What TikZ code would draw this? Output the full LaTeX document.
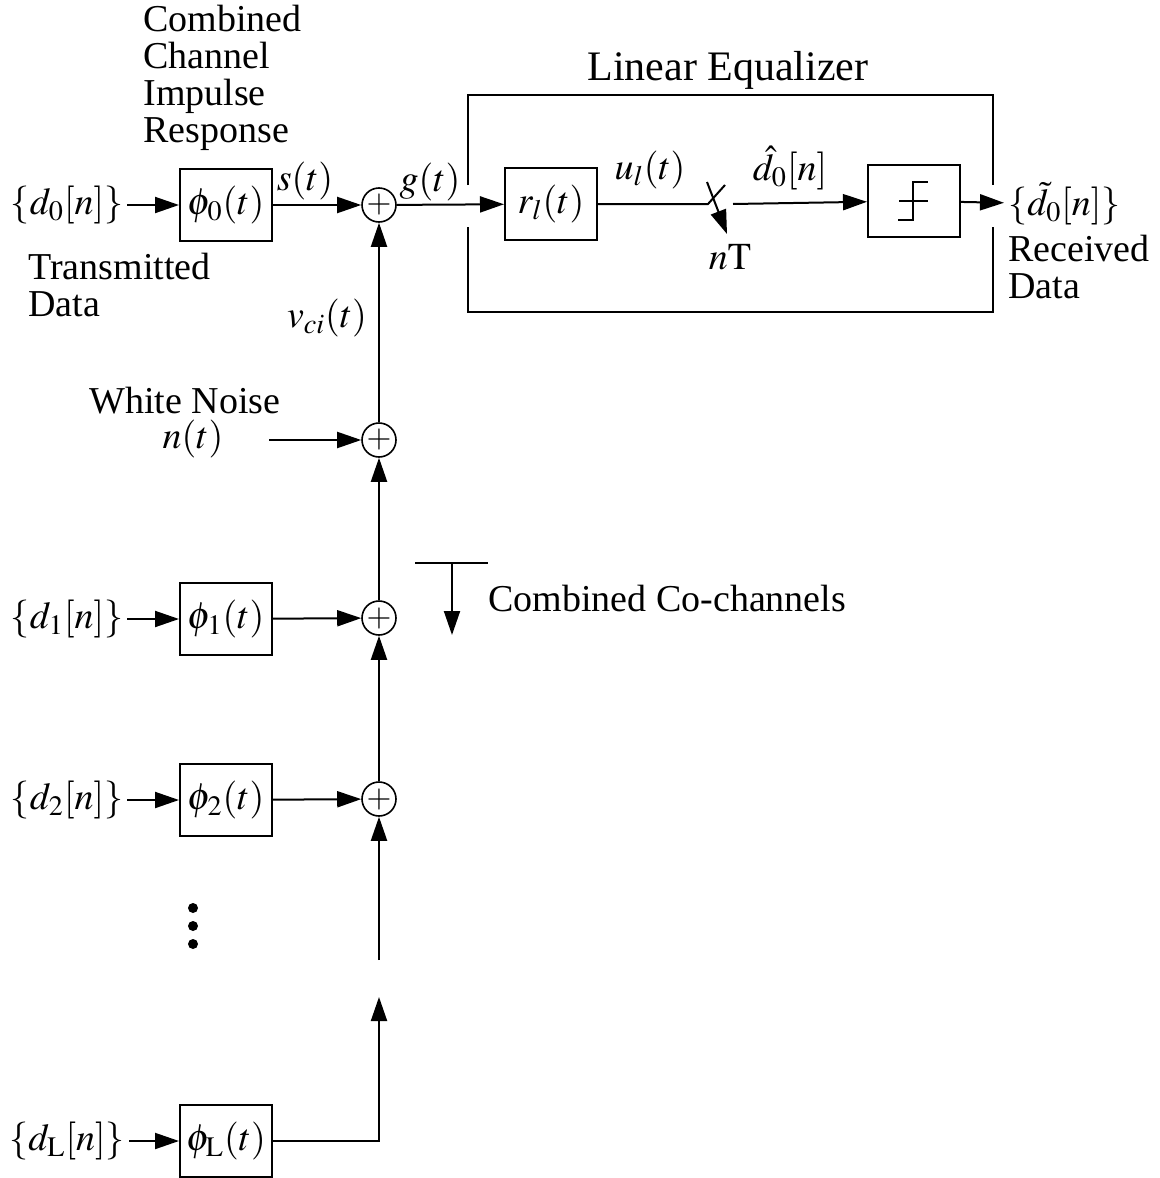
\documentclass[tikz,border=0pt]{standalone}
\usepackage{mathptmx}
\usepackage[no-math]{fontspec}
\setmainfont{Liberation Serif}
\usetikzlibrary{arrows.meta,positioning}

\tikzset{
  blk/.style={draw,line width=1pt,minimum width=46pt,minimum height=36pt,inner sep=0pt},
  sumc/.style={draw,circle,line width=0.8pt,minimum size=17pt,inner sep=0pt,font=\fontsize{16}{16}\selectfont},
  sig/.style={line width=1pt,-{Triangle[length=12pt,width=8pt]}},
  wire/.style={line width=1pt}
}

\begin{document}
\begin{tikzpicture}[x=0.5pt,y=-0.5pt,font=\fontsize{19}{18.5}\selectfont,inner sep=2pt]
\useasboundingbox (0,0) rectangle (1160,1178);

% channel 0 and equalizer
\node (d0) at (67,205) {$\{d_0[n]\}$};
\node[blk] (phi0) at (226,205) {$\phi_0(t)$};
\node[sumc] (s0) at (379,205) {$+$};
\node[blk] (rl) at (551,204) {$r_l(t)$};
\node[blk] (dec) at (914,201) {};
\node[anchor=west] (dout) at (1004,204) {$\{\tilde{d}_0[n]\}$};
\coordinate (swin) at (708,204);
\coordinate (swout) at (733,204);

\node[anchor=west,align=left] (cir) at (139,78) {Combined\\Channel\\Impulse\\Response};
\node[anchor=west,align=left] (txd) at (24,285) {Transmitted\\Data};
\node[anchor=west,align=left] (rxd) at (1004,267) {Received\\Data};
\node[font=\fontsize{21}{21}\selectfont] (leq) at (728,70) {Linear Equalizer};

\draw[sig] (d0) -- (phi0);
\draw[sig] (phi0) -- (s0);
\draw[sig] (s0) -- (rl);
\draw[wire] (rl) -- (swin) -- (725,185);
\draw[sig] (707,182) -- (727,234);
\draw[sig] (swout) -- (dec);
\draw[sig] (dec) -- (dout);
\node (st) at (305,181) {$s(t)$};
\node (gt) at (430,182) {$g(t)$};
\node (ut) at (650,170) {$u_l(t)$};
\node (dh) at (790,168) {$\hat{d}_0[n]$};
\node (nT) at (730,257) {$n\mathrm{T}$};

% equalizer frame, open where the signal passes
\draw[wire] (468,185) -- (468,95) -- (993,95) -- (993,185);
\draw[wire] (468,227) -- (468,312) -- (993,312) -- (993,227);

% slicer
\draw[wire] ([shift={(-15,0)}]dec.center) -- ([shift={(14,0)}]dec.center);
\draw[wire] ([shift={(-16,19)}]dec.center) -- ([shift={(-1,19)}]dec.center)
  -- ([shift={(-1,-19)}]dec.center) -- ([shift={(14,-19)}]dec.center);

% noise and co-channels
\node[sumc] (sn) at (379,440) {$+$};
\node[sumc] (s1) at (379,618) {$+$};
\node[sumc] (s2) at (379,799) {$+$};
\node (wn) at (185,401) {White Noise};
\node (nt) at (193,439) {$n(t)$};
\node (vci) at (327,318) {$v_{ci}(t)$};
\coordinate (nin) at (269,440);
\draw[sig] (nin) -- (sn);
\draw[sig] (sn) -- (s0);
\draw[sig] (s1) -- (sn);
\draw[sig] (s2) -- (s1);

\node (d1) at (67,619) {$\{d_1[n]\}$};
\node[blk] (phi1) at (226,619) {$\phi_1(t)$};
\node (d2) at (67,800) {$\{d_2[n]\}$};
\node[blk] (phi2) at (226,800) {$\phi_2(t)$};
\node (dL) at (67,1141) {$\{d_{\mathrm{L}}[n]\}$};
\node[blk] (phiL) at (226,1141) {$\phi_{\mathrm{L}}(t)$};
\draw[sig] (d1) -- (phi1);
\draw[sig] (phi1) -- (s1);
\draw[sig] (d2) -- (phi2);
\draw[sig] (phi2) -- (s2);
\draw[sig] (dL) -- (phiL);

\coordinate (gapu) at (379,960);
\coordinate (gapl) at (379,997);
\draw[sig] (gapu) -- (s2);
\draw[sig] (phiL.east) -| (gapl);

\foreach \y in {908,926,944}
  \fill (193,\y) circle (5);

\coordinate (cct) at (452,563);
\draw[wire] (415,563) -- (488,563);
\draw[sig] (cct) -- (452,635);
\node[anchor=west] (ccl) at (484,598) {Combined Co-channels};
\end{tikzpicture}
\end{document}
